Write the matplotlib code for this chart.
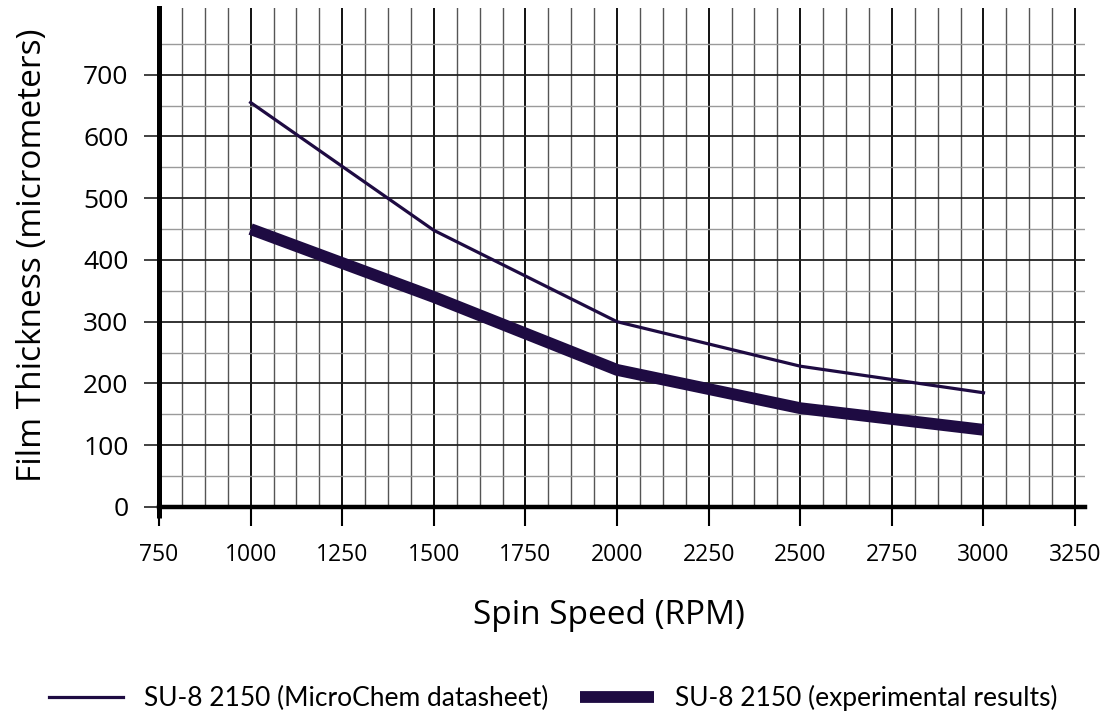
import matplotlib.pyplot as plt
from matplotlib.ticker import MultipleLocator, FixedLocator

# spin speed (RPM) vs film thickness (micrometers)
rpm = [1000, 1500, 2000, 2500, 3000]
datasheet = [655, 448, 300, 228, 185]
experimental = [450, 340, 222, 160, 125]

x_ticks = [750, 1000, 1250, 1500, 1750, 2000, 2250, 2500, 2750, 3000, 3250]
y_ticks = [0, 100, 200, 300, 400, 500, 600, 700]

line_color = "#1e0b42"

plt.rcParams["font.family"] = ["Open Sans", "DejaVu Sans"]

fig = plt.figure(figsize=(11.07, 7.15), dpi=100)
ax = fig.add_axes([159 / 1107, 208 / 715, (1085 - 159) / 1107, (507 - 8) / 715])

ax.set_xlim(750, 3277)
ax.set_ylim(0, 808)

# grid
ax.xaxis.set_major_locator(FixedLocator(x_ticks))
ax.xaxis.set_minor_locator(MultipleLocator(62.5))
ax.yaxis.set_major_locator(FixedLocator(y_ticks))
ax.yaxis.set_minor_locator(FixedLocator(list(range(50, 800, 100))))
ax.grid(which="major", axis="x", color="#111111", lw=1.4, zorder=0)
ax.grid(which="minor", axis="x", color="#555555", lw=1.0, zorder=0)
ax.grid(which="major", axis="y", color="#222222", lw=1.3, zorder=0)
ax.grid(which="minor", axis="y", color="#9a9a9a", lw=1.0, zorder=0)
ax.set_axisbelow(True)

ax.plot(rpm, datasheet, color=line_color, lw=2.3, solid_joinstyle="miter",
        label="SU-8 2150 (MicroChem datasheet)", zorder=3)
ax.plot(rpm, experimental, color=line_color, lw=8.5, solid_capstyle="butt",
        solid_joinstyle="miter", label="SU-8 2150 (experimental results)", zorder=3)

for s in ["top", "right"]:
    ax.spines[s].set_visible(False)
ax.spines["bottom"].set_linewidth(3.2)
ax.spines["left"].set_linewidth(3.6)
ax.spines["bottom"].set_zorder(4)
ax.spines["left"].set_zorder(4)
# left axis runs a little below zero
ax.plot([750, 750], [-18, 0], color="black", lw=3.6, clip_on=False,
        solid_capstyle="butt", zorder=4)

ax.tick_params(axis="x", which="major", direction="out", length=14, width=1.5,
               color="black", labelsize=16.5, pad=12)
ax.tick_params(axis="y", which="major", direction="out", length=11, width=1.3,
               color="#333333", labelsize=19, pad=11)
ax.tick_params(which="minor", length=0)

fig.text(609 / 1107, 1 - 615 / 715, "Spin Speed (RPM)", fontsize=24,
         ha="center", va="center")
fig.text(33 / 1107, 1 - 255 / 715, "Film Thickness (micrometers)", fontsize=24,
         ha="center", va="center", rotation=90)

fig.legend(loc="center", bbox_to_anchor=(0.5, 1 - 698 / 715), ncol=2,
           frameon=False, prop={"family": "Lato", "size": 19},
           handlelength=2.8, handletextpad=0.8, columnspacing=1.2)

fig.savefig("out.png", dpi=100)
